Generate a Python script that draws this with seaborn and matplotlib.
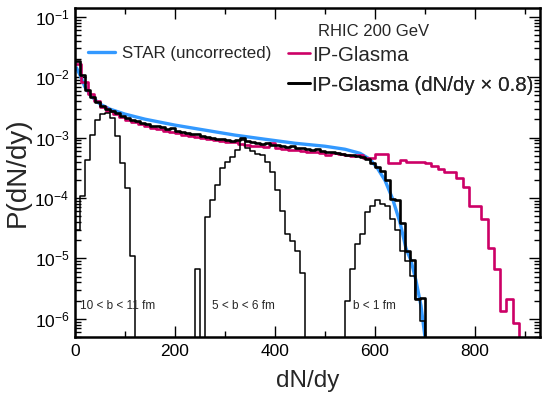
import numpy as np
import pandas as pd
import matplotlib
matplotlib.use("Agg")
import matplotlib.pyplot as plt
from matplotlib.lines import Line2D
from matplotlib.ticker import LogLocator, MultipleLocator, NullFormatter
import seaborn as sns

# ---------------- data ----------------
# IP-Glasma (dN/dy x 0.8), all centralities: bins of width 10 starting at 0
scaled_width = 10.0
scaled_vals = [1.86e-2, 1.09e-2, 6.1e-3, 4.69e-3, 3.87e-3, 3.32e-3, 2.96e-3, 2.75e-3, 2.54e-3, 2.27e-3,
               2.10e-3, 1.94e-3, 1.87e-3, 1.73e-3, 1.67e-3, 1.55e-3, 1.55e-3, 1.49e-3, 1.38e-3, 1.43e-3,
               1.28e-3, 1.23e-3, 1.18e-3, 1.14e-3, 1.14e-3, 1.05e-3, 1.02e-3, 9.8e-4, 9.4e-4, 9.4e-4,
               9.06e-4, 8.71e-4, 9.06e-4, 9.8e-4, 8.71e-4, 8.39e-4, 8.07e-4, 7.77e-4, 8.07e-4, 7.48e-4,
               7.48e-4, 7.20e-4, 6.93e-4, 7.20e-4, 6.67e-4, 6.67e-4, 6.42e-4, 6.18e-4, 6.42e-4, 5.95e-4,
               5.72e-4, 5.72e-4, 5.50e-4, 5.30e-4, 5.10e-4, 5.10e-4, 4.91e-4, 4.72e-4, 4.38e-4, 3.76e-4,
               3.22e-4, 2.77e-4, 1.96e-4, 9.5e-5, 9.1e-5, 3.93e-5, 1.35e-5, 9.55e-6, 2.15e-6, 2.23e-6]

# IP-Glasma, all centralities: bins of width 12.5 starting at 0
glasma_width = 12.5
glasma_vals = [1.66e-2, 8.3e-3, 5.26e-3, 4.03e-3, 3.20e-3, 2.75e-3, 2.45e-3, 2.18e-3, 1.94e-3, 1.80e-3,
               1.67e-3, 1.55e-3, 1.43e-3, 1.38e-3, 1.28e-3, 1.23e-3, 1.18e-3, 1.10e-3, 1.05e-3, 1.02e-3,
               9.8e-4, 9.4e-4, 9.06e-4, 8.71e-4, 8.39e-4, 8.39e-4, 7.77e-4, 7.48e-4, 7.20e-4, 7.20e-4,
               6.93e-4, 8.07e-4, 6.67e-4, 6.42e-4, 6.18e-4, 6.18e-4, 5.95e-4, 5.72e-4, 5.72e-4, 5.50e-4,
               5.10e-4, 5.50e-4, 5.30e-4, 5.10e-4, 4.91e-4, 5.10e-4, 4.55e-4, 4.55e-4, 5.30e-4, 5.30e-4,
               3.76e-4, 3.76e-4, 4.21e-4, 3.90e-4, 3.90e-4, 3.90e-4, 3.76e-4, 3.35e-4, 2.99e-4, 2.66e-4,
               2.66e-4, 2.12e-4, 1.50e-4, 7.25e-5, 7.25e-5, 4.58e-5, 1.51e-5, 6.8e-6, 1.36e-6, 2.15e-6,
               8.6e-7]

# impact-parameter classes (IP-Glasma x 0.8), bins of width 10
b10_start = 0.0
b10_vals = [2.9e-5, 1.10e-4, 4.2e-4, 1.10e-3, 1.94e-3, 2.45e-3, 2.54e-3, 2.10e-3, 1.05e-3, 3.76e-4,
            1.44e-4, 1.11e-5]
b5_start = 240.0
b5_vals = [6.8e-6, 0.0, 4.76e-5, 9.1e-5, 1.62e-4, 3.10e-4, 3.90e-4, 4.72e-4, 6.18e-4, 9.06e-4,
           6.67e-4, 5.95e-4, 5.30e-4, 5.10e-4, 3.90e-4, 2.66e-4, 1.34e-4, 6.0e-5, 2.58e-5, 1.98e-5,
           1.35e-5, 5.81e-6]
b1_start = 540.0
b1_vals = [1.99e-6, 6.8e-6, 1.76e-5, 2.58e-5, 5.77e-5, 7.25e-5, 9.1e-5, 8.1e-5, 7.25e-5, 4.58e-5,
           2.90e-5, 1.35e-5, 9.2e-6, 5.18e-6, 2.15e-6, 9.3e-7]

# STAR (uncorrected) smooth curve
star_x = [2, 10, 20, 32, 50, 70, 100, 140, 200, 260, 320, 380, 440, 500, 540, 570, 590, 605,
          620, 635, 650, 662, 672, 682, 692, 700]
star_y = [1.48e-2, 1.09e-2, 6.9e-3, 4.87e-3, 3.59e-3, 2.96e-3, 2.45e-3, 2.02e-3, 1.61e-3, 1.33e-3,
          1.10e-3, 9.4e-4, 8.07e-4, 7.20e-4, 6.42e-4, 5.50e-4, 4.38e-4, 3.10e-4, 1.96e-4, 9.8e-5,
          3.93e-5, 1.46e-5, 9.2e-6, 4.28e-6, 1.64e-6, 5.0e-7]

labels = {"star": "STAR (uncorrected)", "glasma": "IP-Glasma",
          "scaled": "IP-Glasma (dN/dy \u00d7 0.8)"}
class_labels = ["10 < b < 11 fm", "5 < b < 6 fm", "b < 1 fm"]
title_text = "RHIC 200 GeV"

# ---------------- helpers ----------------
def step_frame(start, width, vals, close_left=False):
    edges = start + width * np.arange(len(vals) + 1)
    xs = list(edges)
    ys = list(vals) + [vals[-1]]
    if close_left:
        xs = [edges[0]] + xs
        ys = [0.0] + ys
    xs.append(edges[-1])
    ys.append(0.0)
    return pd.DataFrame({"x": xs, "y": ys})

# ---------------- style ----------------
sns.set_style("ticks")
plt.rcParams["font.family"] = ["Liberation Sans", "DejaVu Sans"]
plt.rcParams["mathtext.fontset"] = "custom"
plt.rcParams["mathtext.rm"] = "Liberation Sans"
plt.rcParams["mathtext.it"] = "Liberation Sans:italic"
plt.rcParams["mathtext.bf"] = "Liberation Sans:bold"
plt.rcParams["mathtext.sf"] = "Liberation Sans"

MAGENTA = "#cc0066"
BLUE = "#3399ff"

fig = plt.figure(figsize=(5.45, 3.97), dpi=100)
ax = fig.add_axes([75 / 545, 1 - 337 / 397, 465 / 545, 329 / 397])

common = dict(ax=ax, x="x", y="y", estimator=None, sort=False, legend=False)

sns.lineplot(data=pd.DataFrame({"x": star_x, "y": star_y}), color=BLUE, lw=2.4,
             solid_capstyle="butt", **common)
sns.lineplot(data=step_frame(0.0, glasma_width, glasma_vals), color=MAGENTA, lw=1.9,
             drawstyle="steps-post", **common)
sns.lineplot(data=step_frame(0.0, scaled_width, scaled_vals), color="black", lw=1.9,
             drawstyle="steps-post", **common)
for st, vals in [(b10_start, b10_vals), (b5_start, b5_vals), (b1_start, b1_vals)]:
    sns.lineplot(data=step_frame(st, scaled_width, vals, close_left=True), color="black", lw=1.1,
                 drawstyle="steps-post", **common)

ax.set_yscale("log")
ax.set_xlim(0, 930)
ax.set_ylim(5e-7, 0.14)

ax.xaxis.set_major_locator(MultipleLocator(200))
ax.xaxis.set_minor_locator(MultipleLocator(100))
ax.yaxis.set_major_locator(LogLocator(base=10, numticks=20))
ax.yaxis.set_minor_locator(LogLocator(base=10, subs=np.arange(2, 10), numticks=20))
ax.yaxis.set_minor_formatter(NullFormatter())

ax.tick_params(which="both", direction="in", top=True, right=True, width=1.0, colors="black")
ax.tick_params(which="major", length=8, labelsize=12.5, pad=4)
ax.tick_params(which="minor", length=4)
ax.tick_params(axis="x", which="major", pad=5)
for sp in ax.spines.values():
    sp.set_linewidth(1.8)
    sp.set_color("black")

ax.set_xlabel("dN/dy", fontsize=17.5, labelpad=8)
ax.set_ylabel("P(dN/dy)", fontsize=20, labelpad=3)

# legends
def single_legend(handle, text, x_px, y_px, hl, pad, fs):
    leg = ax.legend([handle], [text], loc="center left", frameon=False,
                    bbox_to_anchor=((x_px - 75) / 465, (337 - y_px) / 329),
                    borderpad=0, borderaxespad=0, handlelength=hl, handletextpad=pad,
                    fontsize=fs)
    ax.add_artist(leg)
    return leg

single_legend(Line2D([], [], color=BLUE, lw=2.4), labels["star"], 88, 53, 1.6, 0.4, 12.2)
single_legend(Line2D([], [], color=MAGENTA, lw=1.9), labels["glasma"], 288, 55, 1.07, 0.1, 14.8)
single_legend(Line2D([], [], color="black", lw=1.9), labels["scaled"], 288, 85, 1.07, 0.1, 14.8)

ax.text((318 - 75) / 465, (337 - 31) / 329, title_text, transform=ax.transAxes,
        fontsize=12, ha="left", va="center")

for txt, xp in zip(class_labels, [80, 212, 353]):
    ax.text((xp - 75) / 465, (337 - 306) / 329, txt, transform=ax.transAxes,
            fontsize=8.5, ha="left", va="center")

fig.savefig("out.png", dpi=100)
